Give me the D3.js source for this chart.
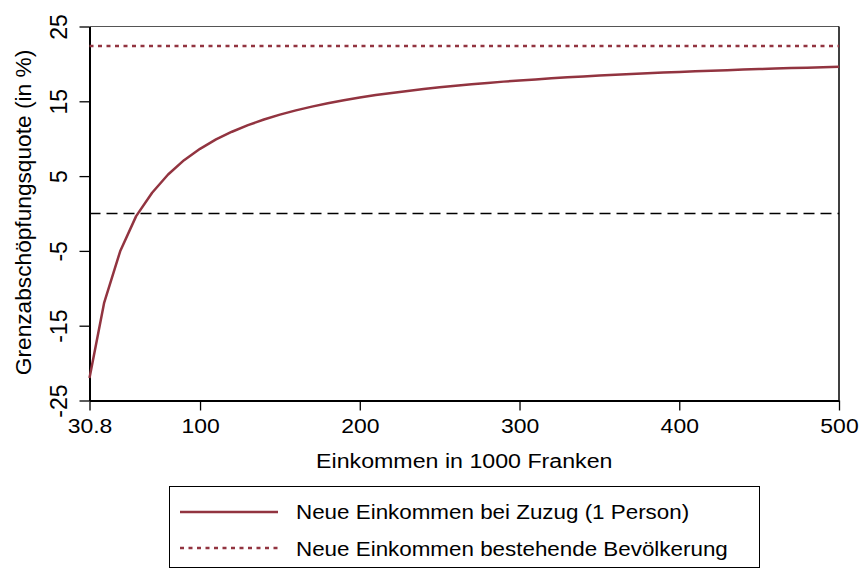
<!DOCTYPE html>
<html>
<head>
<meta charset="utf-8">
<script src="https://cdn.jsdelivr.net/npm/d3@7"></script>
<style>
  html, body { margin: 0; padding: 0; background: #fff; }
  svg { display: block; font-family: "Liberation Sans", Arial, sans-serif; }
</style>
</head>
<body>
<svg id="chart" width="863" height="570"></svg>
<script>
// Income in 1000 CHF
const incomes = [30.8, 40, 50, 60, 70, 80, 90, 100, 110, 120, 130, 140, 150, 160, 170, 180, 190, 200,
  210, 220, 230, 240, 250, 260, 270, 280, 290, 300, 310, 320, 330, 340, 350, 360, 370, 380, 390, 400,
  410, 420, 430, 440, 450, 460, 470, 480, 490, 500];
// Marginal skimming rate (in %) for new income from relocation (1 person)
const zuzugRate = [-22.0, -11.9, -5.05, -0.35, 2.78, 5.22, 7.13, 8.65, 9.90, 10.93, 11.81, 12.56, 13.22, 13.79,
  14.29, 14.74, 15.14, 15.50, 15.83, 16.12, 16.39, 16.64, 16.87, 17.08, 17.28, 17.46, 17.63, 17.78, 17.93,
  18.07, 18.20, 18.32, 18.44, 18.54, 18.65, 18.74, 18.84, 18.93, 19.01, 19.09, 19.16, 19.24, 19.31, 19.37,
  19.44, 19.50, 19.55, 19.61];
// Rate for new income of the existing population (constant)
const bestehendeRate = 22.4;
const zeroLine = 0;

const xTicks = [30.8, 100, 200, 300, 400, 500];
const xTickLabels = ["30.8", "100", "200", "300", "400", "500"];
const yTicks = [-25, -15, -5, 5, 15, 25];
const legendLabels = ["Neue Einkommen bei Zuzug (1 Person)", "Neue Einkommen bestehende Bevölkerung"];

const red = "#923440";
const font = "Liberation Sans, Arial, sans-serif";
const svg = d3.select("#chart");

const x = d3.scaleLinear().domain([30.8, 500]).range([89.5, 839]);
const y = d3.scaleLinear().domain([-25, 25]).range([400.5, 26.5]);

// plot frame: thin grey top, black right
svg.append("line").attr("x1", x(30.8)).attr("x2", x(500)).attr("y1", y(25)).attr("y2", y(25))
  .attr("stroke", "#555").attr("stroke-width", 1.2);
svg.append("line").attr("x1", x(500)).attr("x2", x(500)).attr("y1", y(25)).attr("y2", y(-25))
  .attr("stroke", "#000").attr("stroke-width", 1.5);

// x axis
const xAxis = d3.axisBottom(x).tickValues(xTicks).tickFormat((d, i) => xTickLabels[i])
  .tickSizeOuter(0).tickSizeInner(10).tickPadding(8);
const gx = svg.append("g").attr("transform", `translate(0,${y(-25)})`).call(xAxis);
gx.select(".domain").attr("stroke", "#000").attr("stroke-width", 2);
gx.selectAll(".tick line").attr("stroke", "#000").attr("stroke-width", 1.3);
gx.selectAll(".tick text").attr("font-size", 20.5).attr("fill", "#000")
  .attr("font-family", font).attr("transform", "scale(1.12,1)");

// y axis with rotated labels
const yAxis = d3.axisLeft(y).tickValues(yTicks).tickFormat(d3.format("d"))
  .tickSizeOuter(0).tickSizeInner(10);
const gy = svg.append("g").attr("transform", `translate(${x(30.8)},0)`).call(yAxis);
gy.select(".domain").attr("stroke", "#000").attr("stroke-width", 2);
gy.selectAll(".tick line").attr("stroke", "#000").attr("stroke-width", 1.3);
gy.selectAll(".tick text")
  .text(d => d < 0 ? "-" + Math.abs(d) : String(d))
  .attr("font-size", 23).attr("fill", "#000")
  .attr("font-family", font)
  .attr("x", 0).attr("dy", null).attr("y", 0)
  .attr("text-anchor", "middle")
  .attr("transform", "translate(-23,0) rotate(-90)");

// axis titles
svg.append("text")
  .attr("transform", `translate(${(x(30.8) + x(500)) / 2},468) scale(1.16,1)`)
  .attr("text-anchor", "middle").attr("font-size", 20).attr("fill", "#000")
  .text("Einkommen in 1000 Franken");
svg.append("text")
  .attr("transform", `translate(31,${(y(25) + y(-25)) / 2 - 1}) rotate(-90)`)
  .attr("text-anchor", "middle").attr("font-size", 22.7).attr("fill", "#000")
  .text("Grenzabschöpfungsquote (in %)");

// reference lines
svg.append("line").attr("x1", x(30.8)).attr("x2", x(500)).attr("y1", y(zeroLine)).attr("y2", y(zeroLine))
  .attr("stroke", "#000").attr("stroke-width", 1.6).attr("stroke-dasharray", "11,6");
svg.append("line").attr("x1", x(30.8)).attr("x2", x(500)).attr("y1", y(bestehendeRate)).attr("y2", y(bestehendeRate))
  .attr("stroke", red).attr("stroke-width", 2.5).attr("stroke-dasharray", "4,4.5");

// curve
const line = d3.line().x(d => x(d[0])).y(d => y(d[1]));
svg.append("path").datum(incomes.map((v, i) => [v, zuzugRate[i]]))
  .attr("d", line).attr("fill", "none").attr("stroke", red).attr("stroke-width", 2.5)
  .attr("stroke-linejoin", "round");

// legend
const lg = svg.append("g");
lg.append("rect").attr("x", 169.5).attr("y", 486.5).attr("width", 590).attr("height", 81)
  .attr("fill", "#fff").attr("stroke", "#000").attr("stroke-width", 1);
lg.append("line").attr("x1", 180).attr("x2", 278).attr("y1", 512).attr("y2", 512)
  .attr("stroke", red).attr("stroke-width", 2.5);
lg.append("line").attr("x1", 180).attr("x2", 278).attr("y1", 548).attr("y2", 548)
  .attr("stroke", red).attr("stroke-width", 2.5).attr("stroke-dasharray", "4,4.5");
lg.selectAll("text.leg").data(legendLabels).join("text").attr("class", "leg")
  .attr("transform", (d, i) => `translate(296,${519 + i * 37}) scale(1.12,1)`)
  .attr("font-size", 20).attr("fill", "#000").text(d => d);
</script>
</body>
</html>
